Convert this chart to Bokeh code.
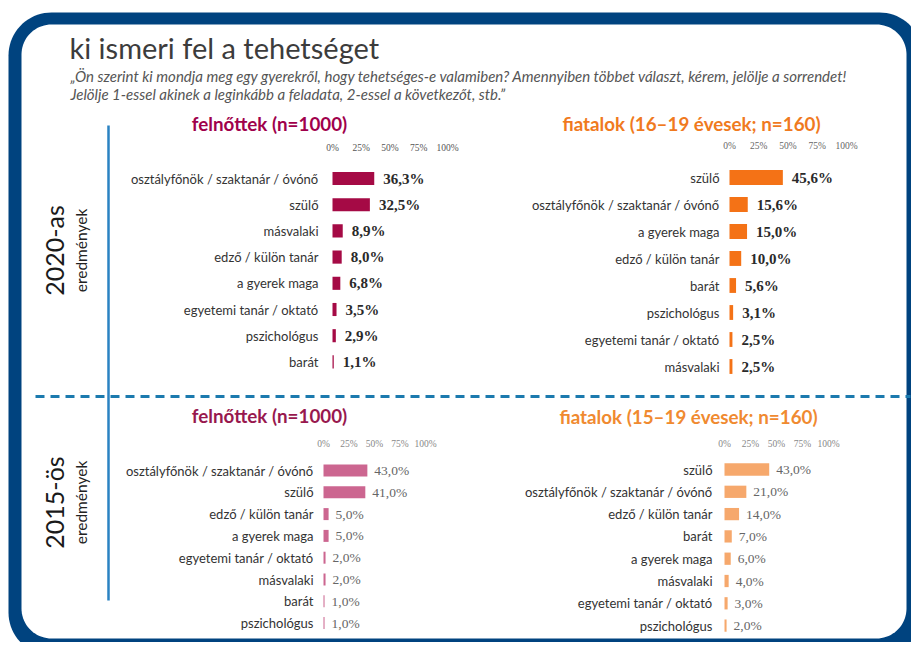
import numpy as np
from bokeh.plotting import figure
from bokeh.models import Range1d
from bokeh.embed import file_html
from bokeh.resources import INLINE
from bokeh.core.properties import value

# ---------------- data ----------------
tl_title = "felnőttek (n=1000)"
tl_cats = ["osztályfőnök / szaktanár / óvónő", "szülő", "másvalaki", "edző / külön tanár",
           "a gyerek maga", "egyetemi tanár / oktató", "pszichológus", "barát"]
tl_vals = [36.3, 32.5, 8.9, 8.0, 6.8, 3.5, 2.9, 1.1]

tr_title = "fiatalok (16–19 évesek; n=160)"
tr_cats = ["szülő", "osztályfőnök / szaktanár / óvónő", "a gyerek maga", "edző / külön tanár",
           "barát", "pszichológus", "egyetemi tanár / oktató", "másvalaki"]
tr_vals = [45.6, 15.6, 15.0, 10.0, 5.6, 3.1, 2.5, 2.5]

bl_title = "felnőttek (n=1000)"
bl_cats = ["osztályfőnök / szaktanár / óvónő", "szülő", "edző / külön tanár", "a gyerek maga",
           "egyetemi tanár / oktató", "másvalaki", "barát", "pszichológus"]
bl_vals = [43.0, 41.0, 5.0, 5.0, 2.0, 2.0, 1.0, 1.0]

br_title = "fiatalok (15–19 évesek; n=160)"
br_cats = ["szülő", "osztályfőnök / szaktanár / óvónő", "edző / külön tanár", "barát",
           "a gyerek maga", "másvalaki", "egyetemi tanár / oktató", "pszichológus"]
br_vals = [43.0, 21.0, 14.0, 7.0, 6.0, 4.0, 3.0, 2.0]

tick_vals = [0, 25, 50, 75, 100]
tick_labels = ["0%", "25%", "50%", "75%", "100%"]

main_title = "ki ismeri fel a tehetséget"
sub_line1 = "„Ön szerint ki mondja meg egy gyerekről, hogy tehetséges-e valamiben? Amennyiben többet választ, kérem, jelölje a sorrendet!"
sub_line2 = "Jelölje 1-essel akinek a leginkább a feladata, 2-essel a következőt, stb.”"
row_labels = [("2020-as", "eredmények"), ("2015-ös", "eredmények")]

# ---------------- figure ----------------
W, H = 911, 642
OX, OY = 0, 0
p = figure(width=W, height=H, x_range=Range1d(OX, OX + W), y_range=Range1d(OY + H, OY),
           output_backend="svg", toolbar_location=None,
           x_axis_location=None, y_axis_location=None, min_border=0)
p.grid.visible = False
p.outline_line_color = None
p.background_fill_color = "white"
p.border_fill_color = "white"

FONT = value("Lato")
SERIF = value("Liberation Serif")


def rrect(x0, y0, x1, y1, r, n=20):
    xs, ys = [], []
    for cx, cy, a0, a1 in [(x1 - r, y0 + r, -90, 0), (x1 - r, y1 - r, 0, 90),
                           (x0 + r, y1 - r, 90, 180), (x0 + r, y0 + r, 180, 270)]:
        t = np.radians(np.linspace(a0, a1, n))
        xs.extend(cx + r * np.cos(t))
        ys.extend(cy + r * np.sin(t))
    return xs, ys


# frame
ox, oy = rrect(8, 12, 922, 655, 43)
ix, iy = rrect(21, 24, 906, 638, 30)
p.patch(ox, oy, fill_color="#00437f", line_color=None)
p.patch(ix, iy, fill_color="white", line_color=None)

# headings
p.text(x=[69], y=[47], text=[main_title], text_font=FONT, text_font_size="29px",
       text_color="#3c3c3c", text_baseline="middle")
p.text(x=[70, 70], y=[75, 93], text=[sub_line1, sub_line2], text_font=FONT,
       text_font_style="italic", text_font_size="15px", text_color="#555555",
       text_baseline="middle")

# separators
p.segment(x0=[108], y0=[125], x1=[108], y1=[600], line_color="#2a82c2", line_width=2.5)
p.segment(x0=[35], y0=[396], x1=[910], y1=[396], line_color="#1b7aae", line_width=3,
          line_dash="9 6")

# row labels (rotated)
for (big, small), yc in zip(row_labels, [250, 502]):
    p.text(x=[53], y=[yc], text=[big], angle=np.pi / 2, text_font=FONT,
           text_font_size="25px", text_color="#1a1a1a", text_align="center",
           text_baseline="middle")
    p.text(x=[80], y=[yc], text=[small], angle=np.pi / 2, text_font=FONT,
           text_font_size="15.5px", text_color="#222222", text_align="center",
           text_baseline="middle")

panels = [
    dict(name="tl", title=tl_title, cats=tl_cats, vals=tl_vals, x0=332, s=1.15, y0=178, dy=26.2,
         tick_y=147, title_x=269, title_y=123, gap=14, vgap=9, bh=0.5,
         bar="#a50a45", tcol="#a0004b", vcol="#2a2a2a", vsize="15px", vstyle="bold",
         tickcol="#555555"),
    dict(name="tr", title=tr_title, cats=tr_cats, vals=tr_vals, x0=729, s=1.17, y0=177, dy=27,
         tick_y=145, title_x=691, title_y=123, gap=10, vgap=9, bh=0.55,
         bar="#f47216", tcol="#f07a1e", vcol="#2a2a2a", vsize="15px", vstyle="bold",
         tickcol="#666666"),
    dict(name="bl", title=bl_title, cats=bl_cats, vals=bl_vals, x0=323, s=1.02, y0=470, dy=21.8,
         tick_y=443, title_x=269, title_y=415, gap=10, vgap=7, bh=0.55,
         bar="#cc6690", tcol="#98184e", vcol="#666666", vsize="13.5px", vstyle="normal",
         tickcol="#888888"),
    dict(name="br", title=br_title, cats=br_cats, vals=br_vals, x0=724, s=1.04, y0=469, dy=22.3,
         tick_y=443, title_x=688, title_y=416, gap=12, vgap=7, bh=0.55,
         bar="#f6a86c", tcol="#f08a30", vcol="#666666", vsize="13.5px", vstyle="normal",
         tickcol="#888888"),
]

for P in panels:
    xn, yn = P["name"] + "_x", P["name"] + "_y"
    p.extra_x_ranges[xn] = Range1d((OX - P["x0"]) / P["s"], (OX + W - P["x0"]) / P["s"])
    p.extra_y_ranges[yn] = Range1d((OY + H - P["y0"]) / P["dy"], (OY - P["y0"]) / P["dy"])
    idx = list(range(len(P["cats"])))
    vals = P["vals"]
    labels = [f"{v:.1f}".replace(".", ",") + "%" for v in vals]

    p.hbar(y=idx, left=0, right=vals, height=P["bh"], fill_color=P["bar"], line_color=None,
           x_range_name=xn, y_range_name=yn)
    p.text(x=[0] * len(idx), y=idx, text=P["cats"], x_offset=-P["gap"], text_align="right",
           text_baseline="middle", text_font=FONT, text_font_size="13px",
           text_color="#333333", x_range_name=xn, y_range_name=yn)
    p.text(x=vals, y=idx, text=labels, x_offset=P["vgap"], text_align="left",
           text_baseline="middle", text_font=SERIF, text_font_size=P["vsize"],
           text_font_style=P["vstyle"], text_color=P["vcol"], x_range_name=xn, y_range_name=yn)
    p.text(x=tick_vals, y=[P["tick_y"]] * len(tick_vals), text=tick_labels, text_align="center",
           text_baseline="middle", text_font=SERIF, text_font_size="9.5px",
           text_color=P["tickcol"], x_range_name=xn)
    p.text(x=[P["title_x"]], y=[P["title_y"]], text=[P["title"]], text_align="center",
           text_baseline="middle", text_font=FONT, text_font_style="bold",
           text_font_size="18.8px", text_color=P["tcol"])

open("out.html", "w").write(file_html(p, INLINE))
